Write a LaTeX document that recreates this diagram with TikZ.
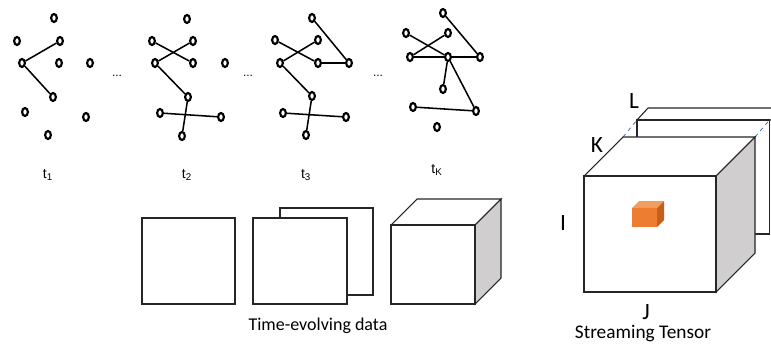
\documentclass[tikz,border=0pt]{standalone}
\usepackage{fontspec}
\setmainfont{Carlito}
\newfontfamily\arialfont{Liberation Sans}
\usetikzlibrary{shapes.geometric}
\definecolor{sidegray}{HTML}{D0CECE}
\definecolor{dashblue}{HTML}{4472C4}
\definecolor{orfront}{HTML}{ED7D31}
\definecolor{ortop}{HTML}{F29D5E}
\definecolor{orside}{HTML}{C55F1C}
\tikzset{
  gnode/.style={ellipse, draw=black, line width=1.6pt, fill=white,
    minimum width=4.3pt, minimum height=6pt, inner sep=0pt},
  gedge/.style={line width=1.15pt, black},
  tlabel/.style={font=\arialfont\fontsize{10.5}{12}\selectfont, inner sep=0pt},
  dotlabel/.style={font=\arialfont\fontsize{9}{10}\selectfont, inner sep=0pt},
  frame/.style={draw=black!85, line width=0.8pt, fill=white},
  shade/.style={draw=black!85, line width=0.8pt, fill=sidegray},
  caption/.style={font=\fontsize{13.5}{15}\selectfont, inner sep=0pt, anchor=base},
  axislabel/.style={font=\fontsize{17.5}{20}\selectfont, inner sep=0pt, anchor=base},
}
\begin{document}
\begin{tikzpicture}[x=0.75pt,y=-0.75pt]
\useasboundingbox (0,0) rectangle (771,343);

% ---------- snapshot t1 ----------
\node[gnode] (a1) at (54,18) {};
\node[gnode] (a2) at (17,41) {};
\node[gnode] (a3) at (60,41) {};
\node[gnode] (a4) at (22,63) {};
\node[gnode] (a5) at (59,63) {};
\node[gnode] (a6) at (90,63) {};
\node[gnode] (a7) at (53,97) {};
\node[gnode] (a8) at (25,112) {};
\node[gnode] (a9) at (86,117) {};
\node[gnode] (a10) at (48,135) {};
\draw[gedge] (a4) -- (a3);
\draw[gedge] (a4) -- (a7);
\node[tlabel] (ta) at (48,175) {t\textsubscript{1}};
\node[dotlabel] (d1) at (117,76) {...};

% ---------- snapshot t2 ----------
\node[gnode] (b1) at (187,19) {};
\node[gnode] (b2) at (152,41) {};
\node[gnode] (b3) at (193,41) {};
\node[gnode] (b4) at (155,63) {};
\node[gnode] (b5) at (193,63) {};
\node[gnode] (b6) at (225,63) {};
\node[gnode] (b7) at (188,97) {};
\node[gnode] (b8) at (160,113) {};
\node[gnode] (b9) at (221,117) {};
\node[gnode] (b10) at (182,136) {};
\draw[gedge] (b2) -- (b5);
\draw[gedge] (b3) -- (b4);
\draw[gedge] (b4) -- (b7);
\draw[gedge] (b8) -- (b9);
\draw[gedge] (b7) -- (b10);
\node[tlabel] (tb) at (187,175) {t\textsubscript{2}};
\node[dotlabel] (d2) at (248,76) {...};

% ---------- snapshot t3 ----------
\node[gnode] (c1) at (312,18) {};
\node[gnode] (c2) at (275,40) {};
\node[gnode] (c3) at (318,40) {};
\node[gnode] (c4) at (280,63) {};
\node[gnode] (c5) at (318,63) {};
\node[gnode] (c6) at (349,63) {};
\node[gnode] (c7) at (312,96) {};
\node[gnode] (c8) at (283,113) {};
\node[gnode] (c9) at (346,117) {};
\node[gnode] (c10) at (306,135) {};
\draw[gedge] (c1) -- (c6);
\draw[gedge] (c2) -- (c5);
\draw[gedge] (c3) -- (c4);
\draw[gedge] (c5) -- (c6);
\draw[gedge] (c4) -- (c7);
\draw[gedge] (c8) -- (c9);
\draw[gedge] (c7) -- (c10);
\node[tlabel] (tc) at (306,175) {t\textsubscript{3}};
\node[dotlabel] (d3) at (378,76) {...};

% ---------- snapshot tK ----------
\node[gnode] (k1) at (443,13) {};
\node[gnode] (k2) at (406,33) {};
\node[gnode] (k3) at (448,33) {};
\node[gnode] (k4) at (410,57) {};
\node[gnode] (k5) at (448,57) {};
\node[gnode] (k6) at (480,57) {};
\node[gnode] (k7) at (443,89) {};
\node[gnode] (k8) at (413,107) {};
\node[gnode] (k9) at (476,111) {};
\node[gnode] (k10) at (437,127) {};
\draw[gedge] (k1) -- (k6);
\draw[gedge] (k2) -- (k5);
\draw[gedge] (k3) -- (k4);
\draw[gedge] (k4) -- (k5);
\draw[gedge] (k5) -- (k6);
\draw[gedge] (k5) -- (k7);
\draw[gedge] (k5) -- (k9);
\draw[gedge] (k8) -- (k9);
\node[tlabel] (tk) at (437,170) {t\textsubscript{K}};

% ---------- time-evolving data: matrix, stacked matrices, cube ----------
\draw[frame] (142,218) rectangle (235,304);
\draw[frame] (280,208) rectangle (373,295);
\draw[frame] (253,218) rectangle (347,304);
\draw[frame] (391,225) -- (417,199) -- (501,199) -- (475,225) -- cycle;
\draw[shade] (475,225) -- (501,199) -- (501,278) -- (475,304) -- cycle;
\draw[frame] (391,225) rectangle (475,304);
\node[caption] (cap1) at (318,330) {Time-evolving data};

% ---------- streaming tensor ----------
% next slab arriving behind the cube
\draw[frame] (637,120) -- (648,108) -- (790,108) -- (779,120) -- cycle;
\draw[frame] (637,120) rectangle (769.5,234);
% dashed continuation of the K edges
\draw[dashblue, dashed, line width=0.6pt] (623,137) -- (637,120);
\draw[dashblue, dashed, line width=0.6pt] (755,137) -- (769.5,120);
% main cube
\draw[frame] (584,176) -- (623,137) -- (755,137) -- (716,176) -- cycle;
\draw[shade] (716,176) -- (755,137) -- (755,253) -- (716,292) -- cycle;
\draw[frame] (584,176) rectangle (716,292);
% highlighted entry
\fill[ortop] (632,208) -- (639,201) -- (664,201) -- (657,208) -- cycle;
\fill[orside] (657,208) -- (664,201) -- (664,220) -- (657,227) -- cycle;
\fill[orfront] (632,208) rectangle (657,227);

\node[axislabel] (lI) at (563,230) {I};
\node[axislabel] (lJ) at (646,319) {J};
\node[axislabel] (lK) at (597,152) {K};
\node[axislabel] (lL) at (634,108) {L};
\node[caption, font=\fontsize{14.5}{16}\selectfont] (cap2) at (643,338) {Streaming Tensor};
\end{tikzpicture}
\end{document}
